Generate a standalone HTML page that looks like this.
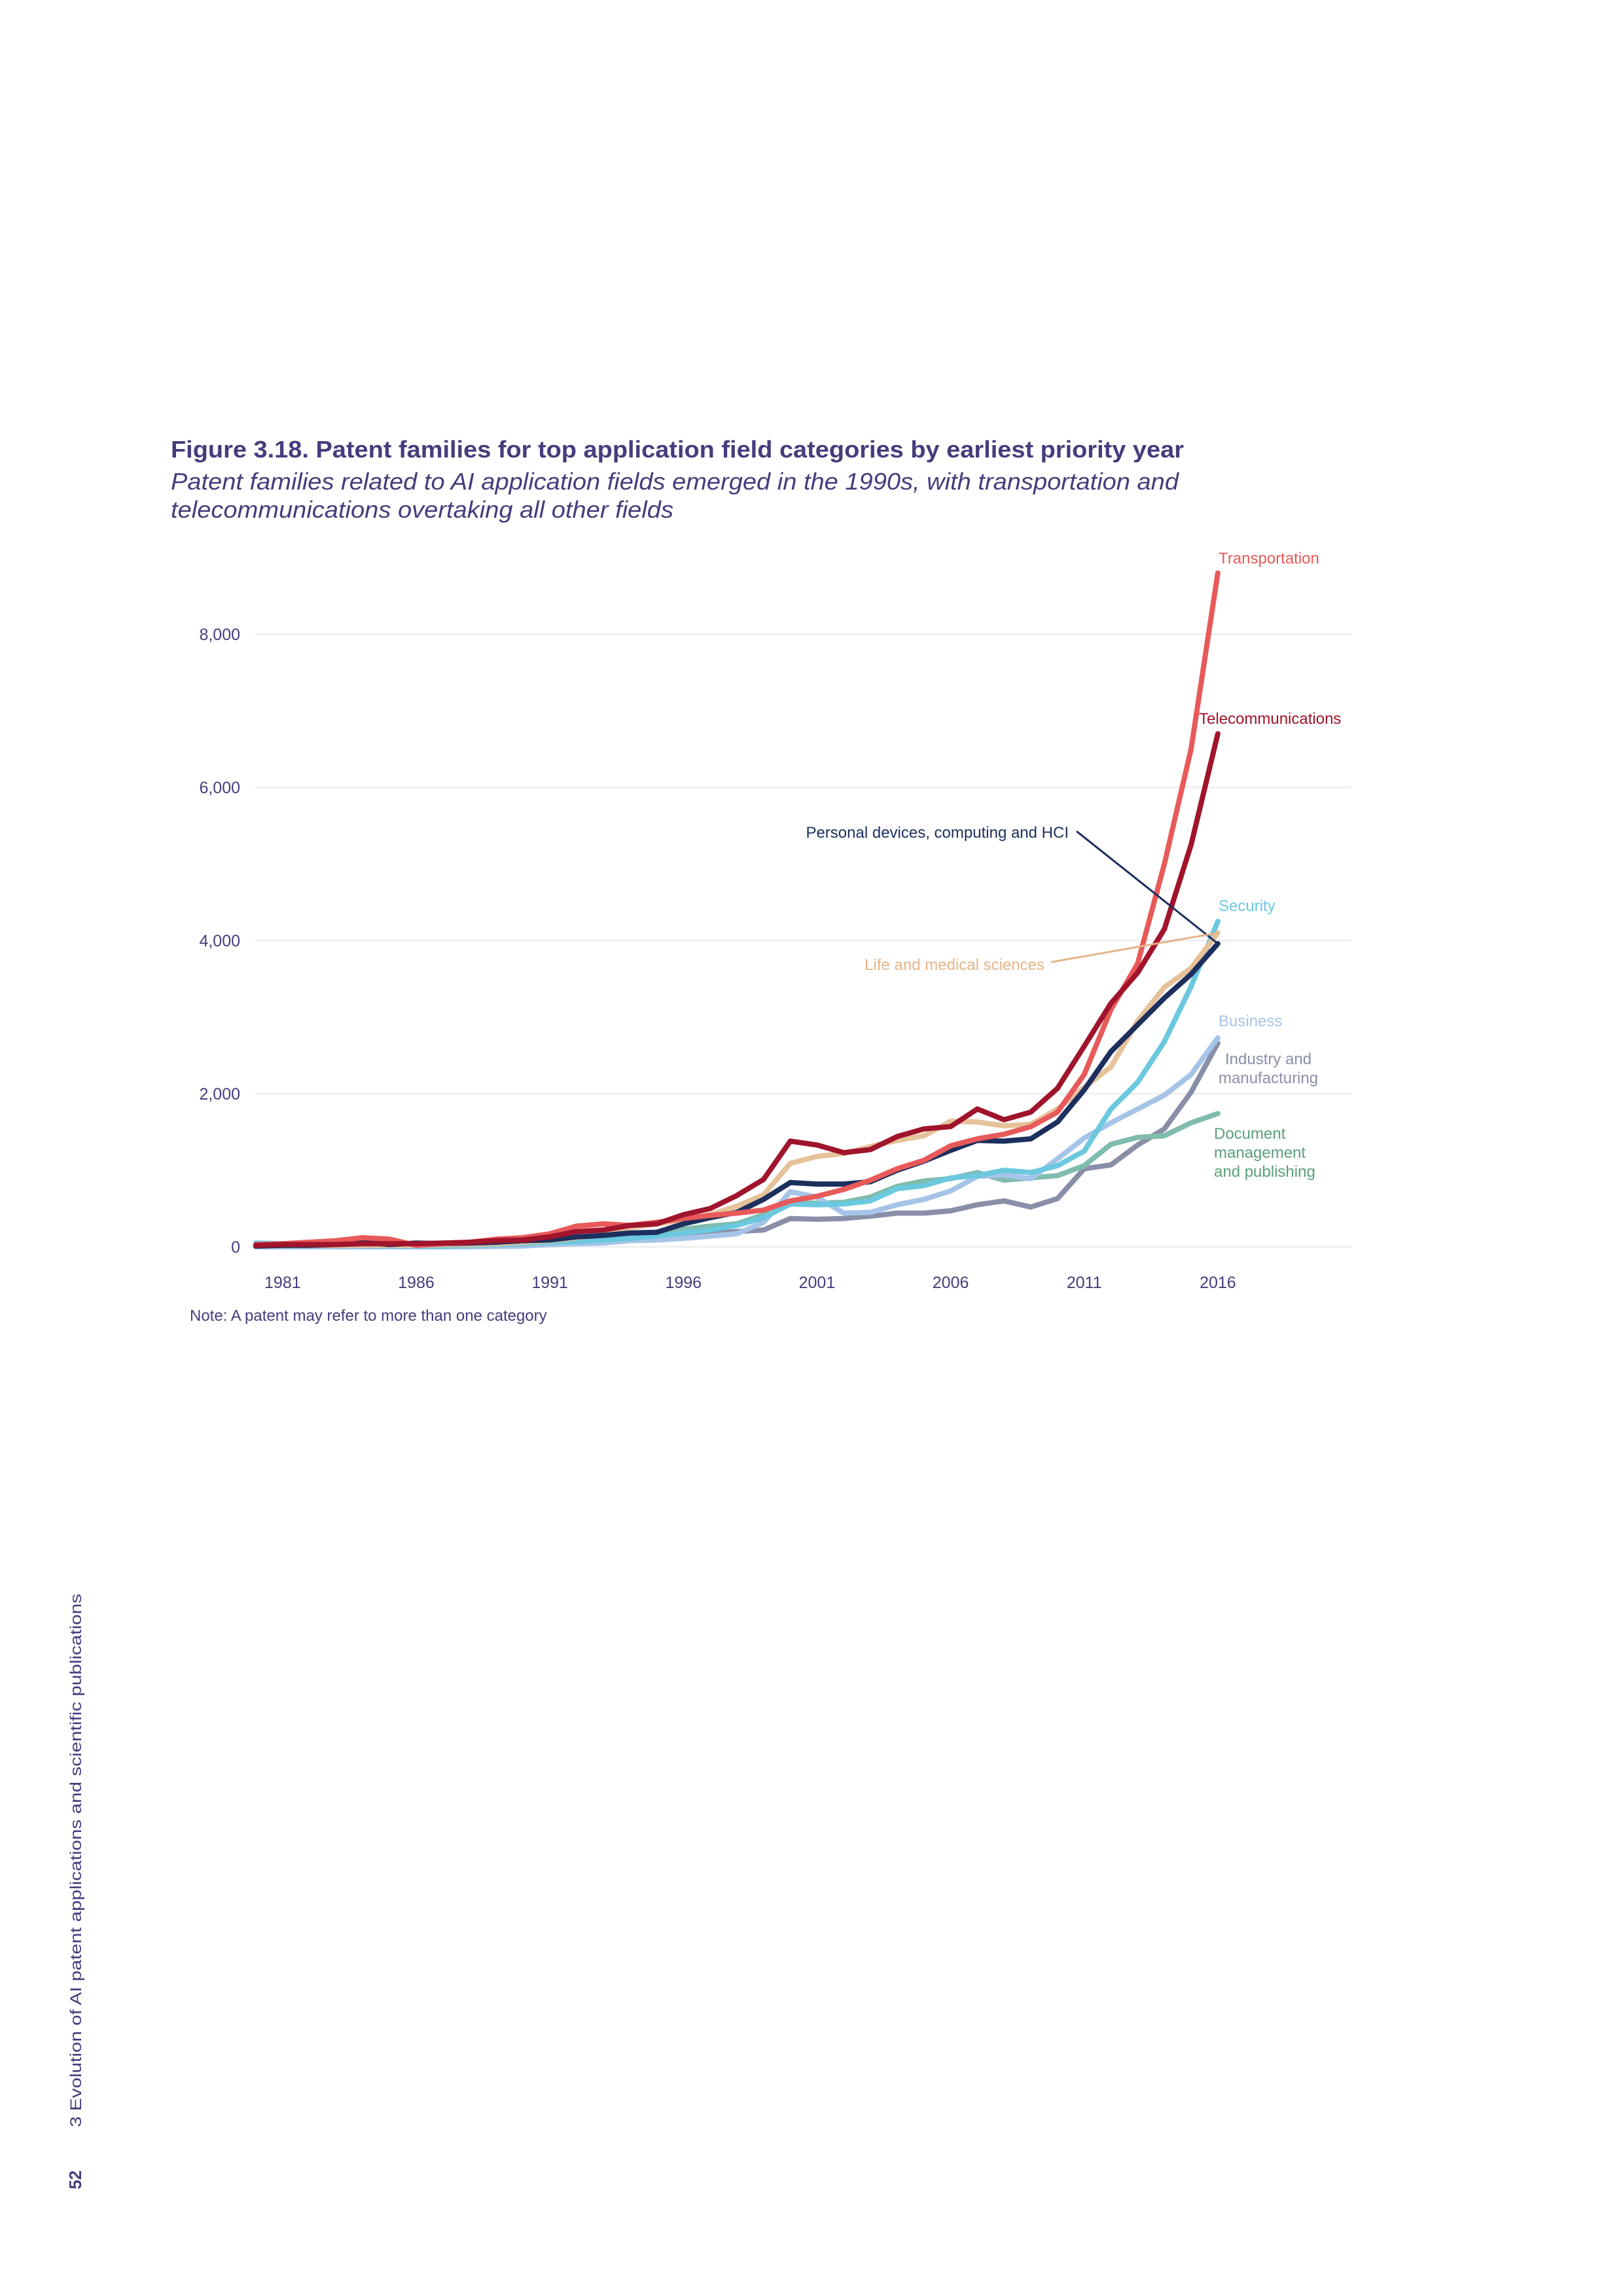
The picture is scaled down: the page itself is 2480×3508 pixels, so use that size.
<!DOCTYPE html>
<html><head><meta charset="utf-8"><style>
html,body{margin:0;padding:0;background:#fff}
svg{display:block}
text{font-family:"Liberation Sans",Arial,sans-serif}
</style></head><body>
<svg id="page" width="2480" height="3508" viewBox="0 0 2480 3508" xmlns="http://www.w3.org/2000/svg">
<text x="261" y="699" font-size="36" font-weight="bold" fill="#463c7c" textLength="1548" lengthAdjust="spacingAndGlyphs">Figure 3.18. Patent families for top application field categories by earliest priority year</text>
<text x="261" y="748" font-size="36" font-style="italic" fill="#463c7c" textLength="1540" lengthAdjust="spacingAndGlyphs">Patent families related to AI application fields emerged in the 1990s, with transportation and</text>
<text x="261" y="791" font-size="36" font-style="italic" fill="#463c7c" textLength="768" lengthAdjust="spacingAndGlyphs">telecommunications overtaking all other fields</text>
<g id="grid"></g>
<g id="yticks"></g>
<g id="xticks"></g>
<g id="series"></g>
<g id="labels"></g>
<text x="290" y="2018" font-size="24" fill="#463c7c">Note: A patent may refer to more than one category</text>
<text transform="translate(124,3250) rotate(-90)" font-size="24" fill="#463c7c" textLength="815" lengthAdjust="spacingAndGlyphs">3 Evolution of AI patent applications and scientific publications</text>
<text transform="translate(124,3345) rotate(-90)" font-size="26" font-weight="bold" fill="#463c7c">52</text>
</svg>
<script>
const years = [];
for (let y = 1980; y <= 2016; y++) years.push(y);
const yTicks = [0, 2000, 4000, 6000, 8000];
const yTickLabels = ["0", "2,000", "4,000", "6,000", "8,000"];
const xTicks = [1981, 1986, 1991, 1996, 2001, 2006, 2011, 2016];

const transportation = [30,40,60,80,120,100,20,40,60,100,120,170,270,300,280,320,370,410,440,480,600,660,750,870,1020,1130,1320,1410,1470,1570,1760,2250,3100,3700,5000,6500,8800];
const telecommunications = [20,30,30,30,40,40,40,50,60,80,90,130,200,220,280,300,420,500,670,880,1380,1330,1230,1270,1440,1540,1570,1800,1660,1760,2070,2620,3180,3580,4150,5250,6700];
const personalDevices = [10,20,20,30,60,30,50,40,50,60,80,90,130,150,180,190,300,380,450,620,840,820,820,850,1000,1120,1260,1390,1380,1410,1630,2050,2550,2900,3250,3560,3960];
const lifeMedical = [20,20,20,20,20,20,20,30,30,40,60,80,120,160,250,300,350,420,530,680,1090,1180,1220,1310,1390,1450,1640,1630,1580,1600,1800,2080,2350,2950,3390,3640,4100];
const security = [50,40,30,20,10,10,10,10,20,30,40,60,70,90,110,140,180,220,280,380,560,550,560,600,760,800,900,930,1000,970,1060,1250,1800,2150,2680,3400,4250];
const business = [0,0,0,0,0,0,0,0,0,5,10,30,40,50,80,90,110,140,170,320,720,650,440,450,550,620,730,920,940,890,1150,1420,1620,1800,1980,2250,2730];
const industry = [20,20,20,20,20,20,20,30,30,40,50,60,80,100,120,150,170,180,200,220,370,360,370,400,440,440,470,550,600,520,630,1020,1070,1330,1540,2020,2660];
const documentMgmt = [30,30,20,20,20,20,20,30,30,40,50,60,80,100,120,150,230,270,300,420,570,570,580,650,790,860,890,970,870,900,930,1060,1340,1430,1450,1620,1740];

const NS = "http://www.w3.org/2000/svg";
const x = yr => 391 + (yr - 1980) * 40.83;
const y = v => 1905 - v * (936 / 8000);
function mk(tag, parent, attrs) {
  const e = document.createElementNS(NS, tag);
  for (const k in attrs) e.setAttribute(k, attrs[k]);
  document.getElementById(parent).appendChild(e);
  return e;
}
yTicks.forEach((t, i) => {
  const g = mk("line", "grid", {x1: 390, x2: 2065, y1: y(t), y2: y(t), stroke: "#efefef", "stroke-width": 3});
  
  
  const l = mk("text", "yticks", {x: 367, y: y(t) + 9, "text-anchor": "end", "font-size": 25, fill: "#463c7c"});
  
  
  l.textContent = yTickLabels[i];
});
xTicks.forEach(t => {
  const l = mk("text", "xticks", {x: x(t), y: 1968, "text-anchor": "middle", "font-size": 25, fill: "#463c7c"});
  
  
  l.textContent = t;
});
const seriesList = [
  ["industry", industry, "#8a8fa8"],
  ["document-management", documentMgmt, "#7fbcad"],
  ["business", business, "#a6c4e8"],
  ["security", security, "#6bc8de"],
  ["life-medical", lifeMedical, "#e6c29b"],
  ["personal-devices", personalDevices, "#1c2f5e"],
  ["transportation", transportation, "#e85a5a"],
  ["telecommunications", telecommunications, "#a0142c"]
];
seriesList.forEach(s => {
  const d = s[1].map((v, i) => (i ? "L" : "M") + x(years[i]).toFixed(1) + "," + y(v).toFixed(1)).join(" ");
  const p = mk("path", "series", {d: d, fill: "none", stroke: s[2], "stroke-width": 8, "stroke-linejoin": "round", "stroke-linecap": "round"});
  
  
});
const lastX = x(2016);
const l1 = mk("line", "labels", {x1: 1645, y1: 1270, x2: lastX, y2: y(personalDevices[36]), stroke: "#1c2f5e", "stroke-width": 3});


const l2 = mk("line", "labels", {x1: 1606, y1: 1470, x2: lastX, y2: y(lifeMedical[36]), stroke: "#e6b487", "stroke-width": 3});


const labelDefs = [
  ["transportation-label", "Transportation", 1862, 861, "#e85a5a", "start"],
  ["telecommunications-label", "Telecommunications", 1832, 1106, "#a0142c", "start"],
  ["personal-devices-label", "Personal devices, computing and HCI", 1633, 1280, "#1c2f5e", "end"],
  ["life-medical-label", "Life and medical sciences", 1596, 1482, "#e6b487", "end"],
  ["security-label", "Security", 1862, 1392, "#6bc8de", "start"],
  ["business-label", "Business", 1862, 1568, "#a6c4e8", "start"],
  ["industry-label-1", "Industry and", 1872, 1626, "#8a8fa8", "start"],
  ["industry-label-2", "manufacturing", 1862, 1655, "#8a8fa8", "start"],
  ["document-label-1", "Document", 1855, 1740, "#5aa07a", "start"],
  ["document-label-2", "management", 1855, 1769, "#5aa07a", "start"],
  ["document-label-3", "and publishing", 1855, 1798, "#5aa07a", "start"]
];
labelDefs.forEach(l => {
  const t = mk("text", "labels", {x: l[2], y: l[3], "font-size": 24, fill: l[4], "text-anchor": l[5]});
  
  
  t.textContent = l[1];
});
</script>
</body></html>
